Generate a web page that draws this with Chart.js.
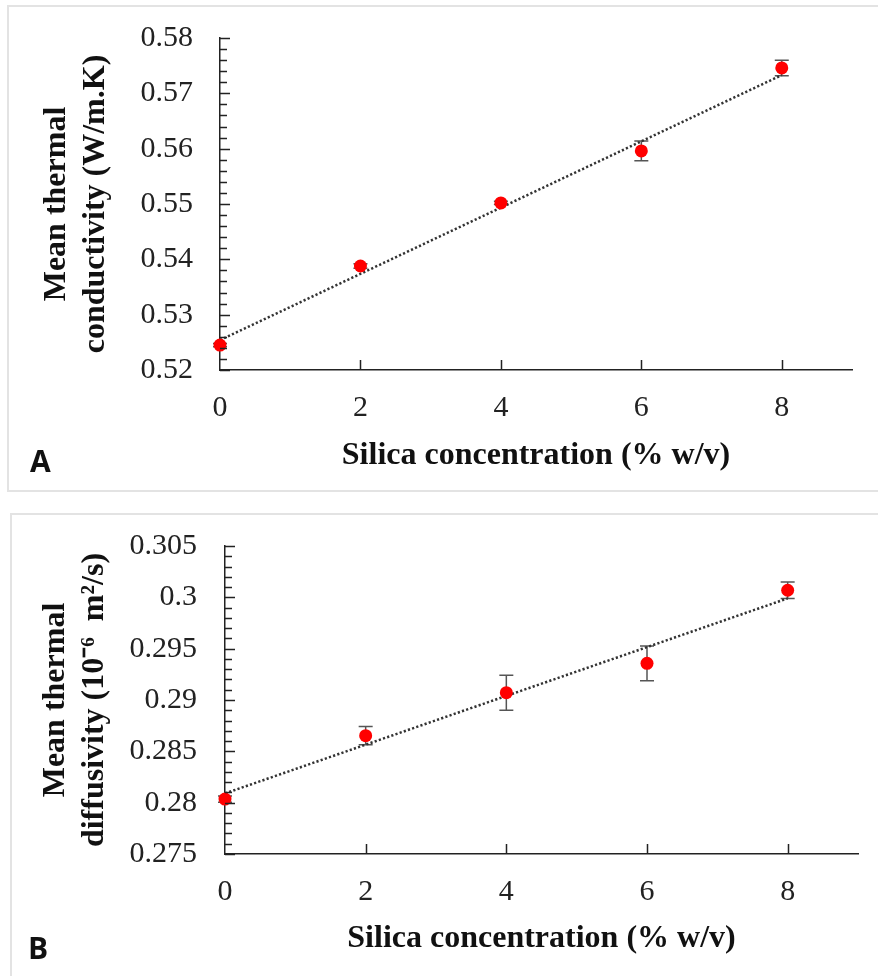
<!DOCTYPE html>
<html>
<head>
<meta charset="utf-8">
<script src="https://cdn.jsdelivr.net/npm/chart.js@4.4.1/dist/chart.umd.min.js"></script>
<style>
  body { margin: 0; background: #fff; width: 878px; height: 976px; overflow: hidden; position: relative; }
  .panel { position: absolute; box-sizing: border-box; border: 2px solid #e3e3e3; width: 900px; }
  canvas { position: absolute; left: 0; }
  .tag { position: absolute; font: bold 30px 'Open Sans', sans-serif; line-height: 1; color: #111; }
</style>
</head>
<body>
<div class="panel" style="left:7px; top:5px; height:487px;"></div>
<div class="panel" style="left:10px; top:513px; height:500px;"></div>
<canvas id="chartA" width="878" height="490" style="top:0"></canvas>
<canvas id="chartB" width="878" height="476" style="top:500px"></canvas>
<div class="tag" style="left:30px; top:446px;">A</div>
<div class="tag" style="left:28px; top:933px;">B</div>
<script>
// silica concentration (% w/v)
const silica = [0, 2, 4, 6, 8];
const xTicks = [0, 2, 4, 6, 8];

// A: mean thermal conductivity (W/m.K)
const conductivity = [0.5245, 0.5388, 0.5502, 0.5596, 0.5746];
const conductivityErr = [0.0003, 0.0004, 0.0003, 0.0018, 0.0014];
const conductivityTrend = [0.5254, 0.5733];   // dotted fit line at x = 0 and x = 8
const yTicksA = [0.52, 0.53, 0.54, 0.55, 0.56, 0.57, 0.58];

// B: mean thermal diffusivity (10^-6 m2/s)
const diffusivity = [0.28035, 0.28653, 0.29071, 0.29357, 0.30069];
const diffusivityErr = [0.0003, 0.0009, 0.0017, 0.0017, 0.0008];
const diffusivityTrend = [0.2809, 0.2999];
const yTicksB = [0.275, 0.28, 0.285, 0.29, 0.295, 0.3, 0.305];

const serif = "'Liberation Serif', 'Times New Roman', serif";

// inward tick marks (minor ticks on y, major only on x)
const inwardTicks = {
  id: 'inwardTicks',
  afterDraw(chart, args, opts) {
    const ctx = chart.ctx, x = chart.scales.x, y = chart.scales.y;
    ctx.save();
    ctx.strokeStyle = '#222';
    ctx.lineWidth = 1.5;
    ctx.beginPath();
    const n = Math.round((y.max - y.min) / opts.minor);
    for (let i = 0; i <= n; i++) {
      const py = Math.round(y.getPixelForValue(y.min + i * opts.minor)) + 0.5;
      const len = i % opts.perMajor === 0 ? 10 : 7;
      ctx.moveTo(x.left, py);
      ctx.lineTo(x.left + len, py);
    }
    xTicks.forEach(v => {
      if (v === x.min) return;
      const px = Math.round(x.getPixelForValue(v)) + 0.5;
      ctx.moveTo(px, y.bottom);
      ctx.lineTo(px, y.bottom - 10);
    });
    ctx.stroke();
    ctx.restore();
  }
};

// vertical error bars with caps
const errorBars = {
  id: 'errorBars',
  beforeDatasetsDraw(chart, args, opts) {
    const ctx = chart.ctx, x = chart.scales.x, y = chart.scales.y;
    const vals = chart.data.datasets[0].data;
    ctx.save();
    ctx.strokeStyle = '#555';
    ctx.lineWidth = 1.5;
    ctx.beginPath();
    vals.forEach((p, i) => {
      const px = x.getPixelForValue(p.x);
      const top = y.getPixelForValue(p.y + opts.err[i]);
      const bot = y.getPixelForValue(p.y - opts.err[i]);
      ctx.moveTo(px, top); ctx.lineTo(px, bot);
      ctx.moveTo(px - 7, top); ctx.lineTo(px + 7, top);
      ctx.moveTo(px - 7, bot); ctx.lineTo(px + 7, bot);
    });
    ctx.stroke();
    ctx.restore();
  }
};

function makeChart(id, vals, err, trend, yTicks, minor, yTitle, fmt, geo) {
  return new Chart(document.getElementById(id), {
    type: 'scatter',
    data: {
      datasets: [
        {
          data: silica.map((s, i) => ({ x: s, y: vals[i] })),
          backgroundColor: '#ff0000',
          borderWidth: 0,
          pointRadius: 6.5,
          clip: false,
          order: 0
        },
        {
          type: 'line',
          data: [{ x: silica[0], y: trend[0] }, { x: silica[silica.length - 1], y: trend[1] }],
          borderColor: '#333',
          borderWidth: 2.5,
          borderDash: [2.2, 2.2],
          pointRadius: 0,
          clip: false,
          order: 1
        }
      ]
    },
    options: {
      responsive: false,
      animation: false,
      layout: { padding: { left: 0, top: geo.top, right: geo.right, bottom: 0 } },
      plugins: {
        legend: { display: false },
        tooltip: { enabled: false },
        errorBars: { err: err },
        inwardTicks: { minor: minor, perMajor: 5 }
      },
      scales: {
        x: {
          type: 'linear',
          min: 0, max: 9,
          afterBuildTicks: s => { s.ticks = xTicks.map(v => ({ value: v })); },
          afterFit: s => { s.height = geo.xh; s.paddingLeft = 0; s.paddingRight = 0; },
          grid: { display: false, drawTicks: false },
          border: { display: true, color: '#222', width: 1.5 },
          ticks: { padding: 20, color: '#222', font: { family: serif, size: 30 } },
          title: {
            display: true, text: 'Silica concentration (% w/v)', color: '#111',
            font: { family: serif, size: 32, weight: 'bold' },
            padding: { top: 0, bottom: geo.tb }
          }
        },
        y: {
          min: yTicks[0], max: yTicks[yTicks.length - 1],
          afterBuildTicks: s => { s.ticks = yTicks.map(v => ({ value: v })); },
          afterFit: s => { s.width = geo.yw; s.paddingTop = 0; s.paddingBottom = 0; },
          grid: { display: false, drawTicks: false },
          border: { display: true, color: '#222', width: 1.5 },
          ticks: { padding: geo.tp, color: '#222', font: { family: serif, size: 30 }, callback: fmt },
          title: {
            display: true, text: yTitle, color: '#111',
            font: { family: serif, size: 32, weight: 'bold' },
            padding: { top: geo.yt, bottom: 0 }
          }
        }
      }
    },
    plugins: [errorBars, inwardTicks]
  });
}

makeChart('chartA', conductivity, conductivityErr, conductivityTrend, yTicksA, 0.002,
  ['Mean thermal', 'conductivity (W/m.K)'],
  v => v.toFixed(2),
  { top: 38, right: 26, xh: 120, yw: 220, tb: 15, tp: 27, yt: 38 });

makeChart('chartB', diffusivity, diffusivityErr, diffusivityTrend, yTicksB, 0.001,
  ['Mean thermal', 'diffusivity (10\u207B\u2076  m\u00B2/s)'],
  v => String(parseFloat(v.toFixed(3))),
  { top: 46, right: 20, xh: 122, yw: 225, tb: 18, tp: 28, yt: 37 });
</script>
</body>
</html>
